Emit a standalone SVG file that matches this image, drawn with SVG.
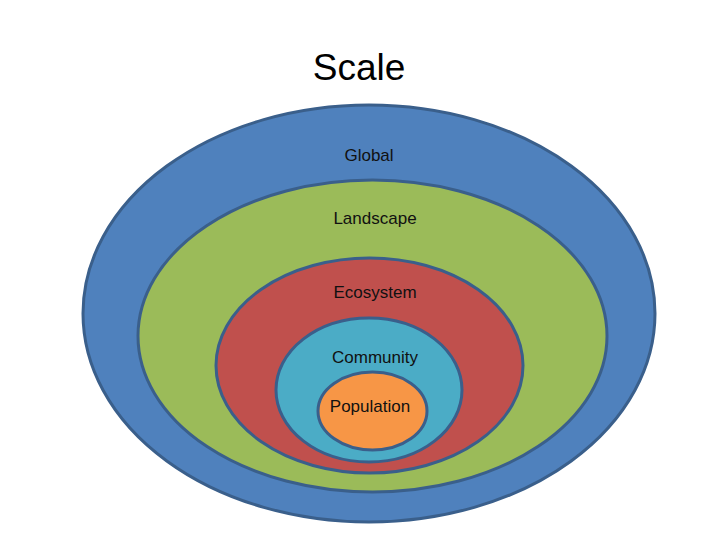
<svg xmlns="http://www.w3.org/2000/svg" width="720" height="540" viewBox="0 0 720 540">
<style>
.ring{stroke:#3a5f8b;stroke-width:3}
.lbl{font-family:"Liberation Sans",Arial,sans-serif;font-size:17px;fill:#111;text-anchor:middle}
.title{font-family:"Liberation Sans",Arial,sans-serif;font-size:37px;fill:#000;text-anchor:middle}
</style>
<rect width="720" height="540" fill="#fff"/>
<text class="title" x="359" y="80">Scale</text>
<g id="global">
<ellipse class="ring" cx="369" cy="313.5" rx="286" ry="208.5" fill="#4f81bd"/>
<text class="lbl" x="369" y="161">Global</text>
</g>
<g id="landscape">
<ellipse class="ring" cx="372.5" cy="336" rx="234.5" ry="156" fill="#9bbb59"/>
<text class="lbl" x="375" y="224">Landscape</text>
</g>
<g id="ecosystem">
<ellipse class="ring" cx="369.5" cy="365.5" rx="153.5" ry="107.5" fill="#c0504d"/>
<text class="lbl" x="375" y="298">Ecosystem</text>
</g>
<g id="community">
<ellipse class="ring" cx="369" cy="390" rx="93" ry="72" fill="#4bacc6"/>
<text class="lbl" x="375" y="363">Community</text>
</g>
<g id="population">
<ellipse class="ring" cx="372.5" cy="411" rx="54.5" ry="39" fill="#f79646"/>
<text class="lbl" x="370" y="412">Population</text>
</g>
<g id="connectors"/>
</svg>
